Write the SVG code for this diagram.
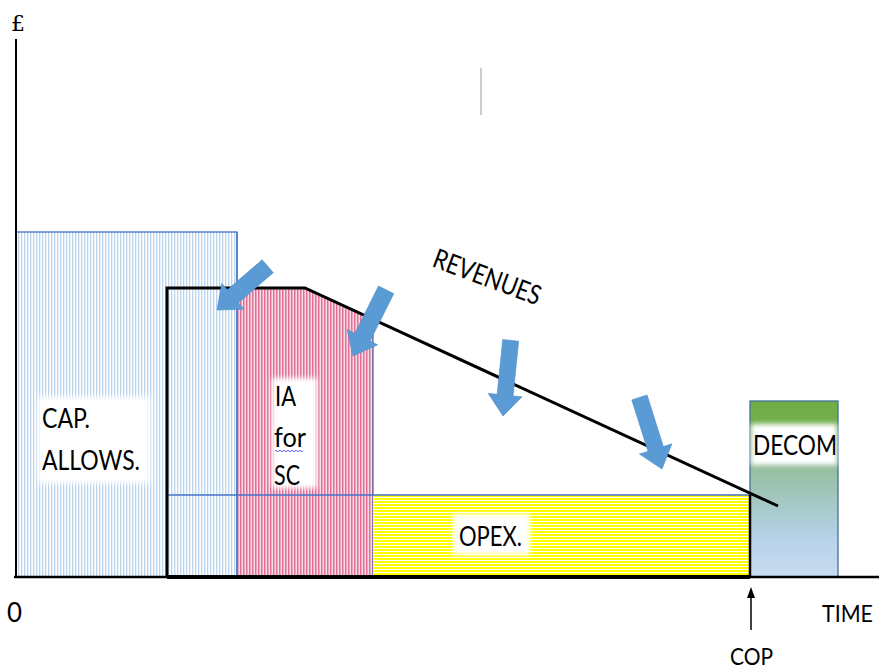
<svg xmlns="http://www.w3.org/2000/svg" width="879" height="671" viewBox="0 0 879 671">
<style>
.lbl{font-family:Lato,"Open Sans","DejaVu Sans",sans-serif;font-size:27px;fill:#000}
.blk{stroke:#000;stroke-width:3;fill:none}
.bl{stroke:#4472c4;stroke-width:1.3}
.arr{fill:#5b9bd5;stroke:#4f8fcb;stroke-width:0.6}
</style>
<defs>
<pattern id="pBlue" width="3" height="10" patternUnits="userSpaceOnUse">
<rect width="3" height="10" fill="#fff"/><rect x="0" width="1.3" height="10" fill="#bcd5ee"/>
</pattern>
<pattern id="pPink" width="3" height="10" patternUnits="userSpaceOnUse">
<rect width="3" height="10" fill="#f7dbe5"/><rect x="0" width="1.5" height="10" fill="#e07096"/>
</pattern>
<pattern id="pYel" width="10" height="3" patternUnits="userSpaceOnUse">
<rect width="10" height="3" fill="#fff"/><rect y="0" width="10" height="2" fill="#ffff00"/>
</pattern>
<linearGradient id="gDecom" x1="0" y1="0" x2="0" y2="1">
<stop offset="0" stop-color="#70ad47"/>
<stop offset="0.1" stop-color="#72ae4b"/>
<stop offset="0.3" stop-color="#8fbb8f"/>
<stop offset="0.5" stop-color="#9fc4b6"/>
<stop offset="0.78" stop-color="#b5d2ea"/>
<stop offset="1" stop-color="#cadcf0"/>
</linearGradient>
<filter id="soft" x="-20%" y="-20%" width="140%" height="140%">
<feGaussianBlur stdDeviation="2.5"/>
</filter>
</defs>
<rect width="879" height="671" fill="#fff"/>

<g id="cap-allows">
<rect x="16" y="232" width="221" height="345" fill="url(#pBlue)" class="bl"/>
<rect x="38" y="397" width="112" height="86" fill="#fff" filter="url(#soft)"/>
<text class="lbl" x="42" y="428" textLength="48" lengthAdjust="spacingAndGlyphs">CAP.</text>
<text class="lbl" x="42" y="470" textLength="98" lengthAdjust="spacingAndGlyphs">ALLOWS.</text>
</g>

<g id="ia-for-sc">
<polygon points="237,288 305,288 373,319 373,577 237,577" fill="url(#pPink)"/>
<line x1="237" y1="232" x2="237" y2="577" class="bl"/>
<line x1="373" y1="319" x2="373" y2="577" class="bl"/>
<rect x="272" y="378" width="45" height="110" fill="#fff" filter="url(#soft)"/>
<text class="lbl" x="275" y="406" textLength="21" lengthAdjust="spacingAndGlyphs">IA</text>
<text class="lbl" x="274" y="447" textLength="32" lengthAdjust="spacingAndGlyphs">for</text>
<path d="M275,451 q1,-1.5 2,0 t2,0 t2,0 t2,0 t2,0 t2,0 t2,0 t2,0 t2,0 t2,0 t2,0 t2,0 t2,0 t2,0" stroke="#5050ff" stroke-width="0.9" fill="none"/>
<text class="lbl" x="274" y="485" textLength="26" lengthAdjust="spacingAndGlyphs">SC</text>
</g>

<g id="opex">
<rect x="373" y="495" width="377" height="82" fill="url(#pYel)"/>
<rect x="453" y="514" width="77" height="41" fill="#fff" filter="url(#soft)"/>
<text class="lbl" x="459" y="546" textLength="63" lengthAdjust="spacingAndGlyphs">OPEX.</text>
</g>

<g id="decom">
<rect x="750" y="401" width="88" height="176" fill="url(#gDecom)" stroke="#41719c" stroke-width="1.3"/>
<rect x="751" y="424" width="86" height="41" fill="#fff" filter="url(#soft)"/>
<text class="lbl" x="753" y="455" textLength="84" lengthAdjust="spacingAndGlyphs">DECOM</text>
</g>

<g id="connectors">
<line x1="167" y1="495" x2="750" y2="495" class="bl"/>
<polyline points="167,577 167,288 305,288 778,506" class="blk" stroke-linejoin="miter"/>
<line x1="750" y1="495" x2="750" y2="577" stroke="#000" stroke-width="2.5"/>
<line x1="16" y1="39" x2="16" y2="578" stroke="#000" stroke-width="2"/>
<line x1="14" y1="577" x2="879" y2="577" stroke="#000" stroke-width="2.5"/>
<line x1="167" y1="577" x2="750" y2="577" stroke="#000" stroke-width="4"/>
<line x1="481" y1="68" x2="481" y2="115" stroke="#aaaaaa" stroke-width="1.2"/>
<line x1="751" y1="630" x2="751" y2="596" stroke="#000" stroke-width="1.5"/>
<polygon points="751,587 747,598 755,598" fill="#000"/>
<polygon class="arr" points="-67,-8.5 -21,-8.5 -21,-17 0,0 -21,17 -21,8.5 -67,8.5" transform="translate(217,310) rotate(139.2)"/>
<polygon class="arr" points="-74,-8.5 -21,-8.5 -21,-17 0,0 -21,17 -21,8.5 -74,8.5" transform="translate(353,356) rotate(116.6)"/>
<polygon class="arr" points="-76,-8 -21,-8 -21,-17 0,0 -21,17 -21,8 -76,8" transform="translate(503,416) rotate(95.8)"/>
<polygon class="arr" points="-75,-8 -21,-8 -21,-17 0,0 -21,17 -21,8 -75,8" transform="translate(662,469) rotate(72.5)"/>
</g>

<g id="labels">
<text x="11" y="31" font-family="'DejaVu Serif','Liberation Serif',serif" font-size="22" fill="#000">£</text>
<text class="lbl" x="7" y="622" textLength="15" lengthAdjust="spacingAndGlyphs">0</text>
<text class="lbl" x="822" y="622" font-size="24" style="font-size:24px" textLength="51" lengthAdjust="spacingAndGlyphs">TIME</text>
<text class="lbl" x="730" y="665" style="font-size:24px" textLength="43" lengthAdjust="spacingAndGlyphs">COP</text>
<text class="lbl" transform="translate(431,266) rotate(20.5)" textLength="113" lengthAdjust="spacingAndGlyphs">REVENUES</text>
</g>
</svg>
